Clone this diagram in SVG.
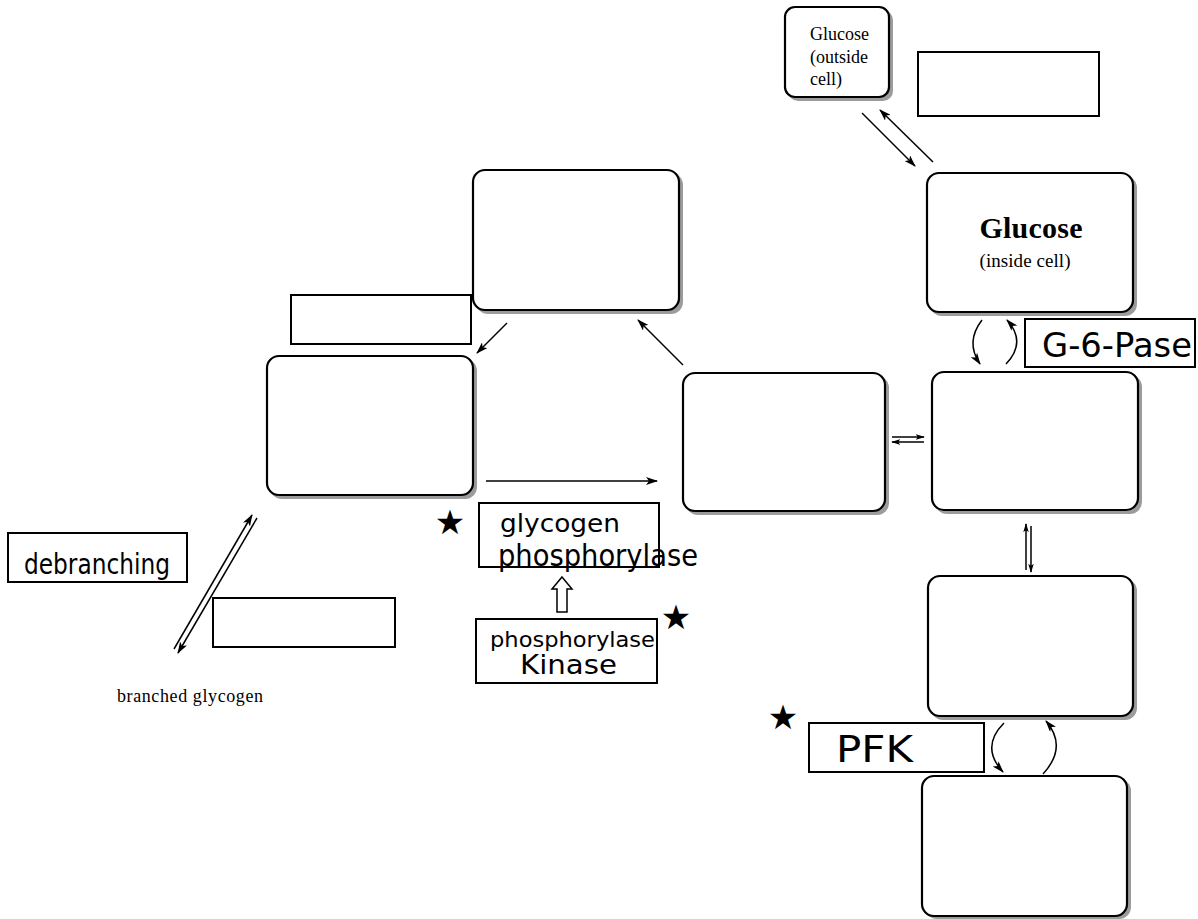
<svg xmlns="http://www.w3.org/2000/svg" width="1198" height="919" viewBox="0 0 1198 919">
<style>
.box{fill:#fff;stroke:#000;stroke-width:2.2}
.sh{fill:#9c9c9c}
.rect{fill:#fff;stroke:#000;stroke-width:2}
.ln{fill:none;stroke:#000;stroke-width:1.5}
.serif{font-family:"Liberation Serif","Times New Roman",serif;fill:#000}
.hand{font-family:"DejaVu Sans","Liberation Sans",sans-serif;fill:#000;font-weight:normal}
.star{font-family:"DejaVu Sans",sans-serif;fill:#000;font-size:34px;text-anchor:middle;dominant-baseline:central}
</style>
<defs>
<marker id="ah" viewBox="0 0 12 8" refX="11" refY="4" markerWidth="12" markerHeight="8" markerUnits="userSpaceOnUse" orient="auto">
<path d="M0,0 L12,4 L0,8 L3,4 z" fill="#000"/>
</marker>
<marker id="ahs" viewBox="0 0 10 6" refX="9" refY="3" markerWidth="9" markerHeight="6" markerUnits="userSpaceOnUse" orient="auto">
<path d="M0,0 L10,3 L0,6 L2,3 z" fill="#000"/>
</marker>
</defs>

<g id="glucose-outside">
<rect class="sh" x="788" y="10" width="105" height="91" rx="10"/>
<rect class="box" x="785" y="7" width="104" height="90" rx="10"/>
<text class="serif" font-size="18" x="810" y="40">Glucose</text>
<text class="serif" font-size="18" x="810" y="63">(outside</text>
<text class="serif" font-size="18" x="810" y="85">cell)</text>
</g>

<g id="label-top-right"><rect class="rect" x="918" y="52" width="181" height="64"/></g>

<g id="glucose-inside">
<rect class="sh" x="930" y="176" width="207" height="140" rx="12"/>
<rect class="box" x="927" y="173" width="206" height="139" rx="12"/>
<text class="serif" font-size="30" font-weight="bold" x="1031" y="238" text-anchor="middle" textLength="103">Glucose</text>
<text class="serif" font-size="19" x="1025" y="267" text-anchor="middle" textLength="91">(inside cell)</text>
</g>

<g id="g6pase">
<rect class="rect" x="1025" y="319" width="170" height="48"/>
<text class="hand" font-size="34" x="1042" y="357" textLength="150" lengthAdjust="spacingAndGlyphs">G-6-Pase</text>
</g>

<g id="box-right-2">
<rect class="sh" x="935" y="375" width="207" height="139" rx="12"/>
<rect class="box" x="932" y="372" width="206" height="138" rx="12"/>
</g>

<g id="box-middle">
<rect class="sh" x="686" y="376" width="203" height="139" rx="12"/>
<rect class="box" x="683" y="373" width="202" height="138" rx="12"/>
</g>

<g id="box-top-left">
<rect class="sh" x="476" y="173" width="207" height="141" rx="12"/>
<rect class="box" x="473" y="170" width="206" height="140" rx="12"/>
</g>

<g id="label-top-left"><rect class="rect" x="291" y="295" width="180" height="49"/></g>

<g id="box-left">
<rect class="sh" x="270" y="359" width="207" height="140" rx="12"/>
<rect class="box" x="267" y="356" width="206" height="139" rx="12"/>
</g>

<g id="glycogen-phosphorylase">
<rect class="rect" x="479" y="503" width="180" height="64"/>
<text class="hand" font-size="24" x="500" y="532" textLength="120" lengthAdjust="spacingAndGlyphs">glycogen</text>
<text class="hand" font-size="30" x="498" y="566" textLength="200" lengthAdjust="spacingAndGlyphs">phosphorylase</text>
<text class="star" x="450" y="522">★</text>
</g>

<g id="phosphorylase-kinase">
<rect class="rect" x="476" y="619" width="181" height="64"/>
<text class="hand" font-size="22" x="490" y="647" textLength="165" lengthAdjust="spacingAndGlyphs">phosphorylase</text>
<text class="hand" font-size="27" x="520" y="674" textLength="97" lengthAdjust="spacingAndGlyphs">Kinase</text>
<text class="star" x="676" y="617">★</text>
</g>

<g id="debranching">
<rect class="rect" x="8" y="533" width="179" height="49"/>
<text class="hand" font-size="28" x="24" y="574" textLength="146" lengthAdjust="spacingAndGlyphs">debranching</text>
</g>

<g id="label-bottom-left"><rect class="rect" x="213" y="598" width="182" height="49"/></g>

<g id="branched-glycogen">
<text class="serif" font-size="18" x="117" y="702" textLength="146">branched glycogen</text>
</g>

<g id="box-right-3">
<rect class="sh" x="931" y="579" width="206" height="141" rx="12"/>
<rect class="box" x="928" y="576" width="205" height="140" rx="12"/>
</g>

<g id="pfk">
<rect class="rect" x="809" y="723" width="175" height="49"/>
<text class="hand" font-size="38" x="836" y="762" textLength="77" lengthAdjust="spacingAndGlyphs">PFK</text>
<text class="star" x="783" y="717">★</text>
</g>

<g id="box-bottom">
<rect class="sh" x="925" y="779" width="206" height="140" rx="12"/>
<rect class="box" x="922" y="776" width="205" height="140" rx="12"/>
</g>

<g id="connectors">
<line class="ln" x1="862" y1="113" x2="915" y2="166" marker-end="url(#ah)"/>
<line class="ln" x1="933" y1="162" x2="880" y2="110" marker-end="url(#ah)"/>
<path class="ln" d="M982,320 Q965,342 980,364" marker-end="url(#ah)"/>
<path class="ln" d="M1006,364 Q1027,342 1007,320" marker-end="url(#ah)"/>
<line class="ln" x1="892" y1="437" x2="924" y2="437" marker-end="url(#ahs)"/>
<line class="ln" x1="924" y1="442" x2="892" y2="442" marker-end="url(#ahs)"/>
<line class="ln" x1="1026" y1="570" x2="1026" y2="524" marker-end="url(#ahs)"/>
<line class="ln" x1="1031" y1="526" x2="1031" y2="572" marker-end="url(#ahs)"/>
<path class="ln" d="M1004,723 Q980,747 1003,772" marker-end="url(#ah)"/>
<path class="ln" d="M1043,774 Q1068,747 1046,721" marker-end="url(#ah)"/>
<line class="ln" x1="683" y1="365" x2="638" y2="320" marker-end="url(#ah)"/>
<line class="ln" x1="507" y1="323" x2="477" y2="353" marker-end="url(#ah)"/>
<line class="ln" x1="486" y1="481" x2="657" y2="481" marker-end="url(#ah)"/>
<line class="ln" x1="174" y1="649" x2="252" y2="515" marker-end="url(#ah)"/>
<line class="ln" x1="257" y1="518" x2="178" y2="653" marker-end="url(#ah)"/>
<polygon points="562,577 572,589 567,589 567,612 557,612 557,589 552,589" fill="#fff" stroke="#000" stroke-width="1.5"/>
</g>
</svg>
